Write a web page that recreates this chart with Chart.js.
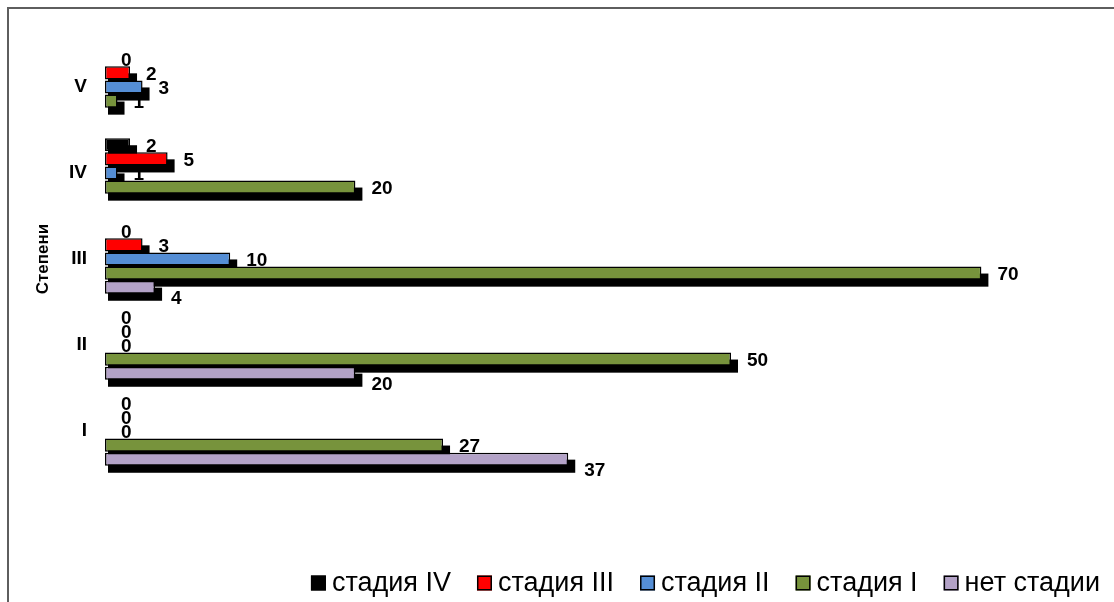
<!DOCTYPE html>
<html>
<head>
<meta charset="utf-8">
<title>Степени</title>
<script src="https://cdn.jsdelivr.net/npm/chart.js@4"></script>
<style>
  html, body { margin: 0; padding: 0; background: #fff; overflow: hidden; }
  #wrap { position: relative; width: 1114px; height: 602px; }
  #frame {
    position: absolute; left: 7px; top: 7px; width: 1200px; height: 700px;
    border-left: 2px solid #5e5e5e; border-top: 2px solid #5e5e5e;
  }
  canvas { position: absolute; left: 0; top: 0; }
</style>
</head>
<body>
<div id="wrap">
  <div id="frame"></div>
  <canvas id="chart" width="1114" height="602"></canvas>
</div>
<script>
"use strict";

// data
const degrees = ["V", "IV", "III", "II", "I"];
const stageFour = [0, 2, 0, 0, 0];
const stageThree = [2, 5, 3, 0, 0];
const stageTwo = [3, 1, 10, 0, 0];
const stageOne = [1, 20, 70, 50, 27];
const noStage = [null, null, 4, 20, 37];
const seriesNames = ["стадия IV", "стадия III", "стадия II", "стадия I", "нет стадии"];
const seriesColors = ["#000000", "#FF0000", "#558ED5", "#77933C", "#B3A2C7"];
const axisTitle = "Степени";

const fontFamily = "'Liberation Sans', Arial, sans-serif";

// black drop shadow behind every bar (drawn before all bars)
const barShadow = {
  id: "barShadow",
  beforeDatasetsDraw(chart) {
    const ctx = chart.ctx;
    ctx.save();
    ctx.fillStyle = "#000";
    chart.data.datasets.forEach((ds, i) => {
      chart.getDatasetMeta(i).data.forEach((bar, j) => {
        const v = ds.data[j];
        if (v === null || v === 0) return;
        const p = bar.getProps(["x", "y", "base", "height"], true);
        ctx.fillRect(p.base + 3, p.y - p.height / 2 + 7, p.x - p.base + 4, p.height);
      });
    });
    ctx.restore();
  }
};

// value labels next to the bars; the last series sits a bit lower, clear of the shadows
const valueLabels = {
  id: "valueLabels",
  afterDatasetsDraw(chart) {
    const ctx = chart.ctx;
    ctx.save();
    ctx.font = "bold 19px " + fontFamily;
    ctx.fillStyle = "#000";
    ctx.textAlign = "left";
    ctx.textBaseline = "middle";
    const last = chart.data.datasets.length - 1;
    chart.data.datasets.forEach((ds, i) => {
      chart.getDatasetMeta(i).data.forEach((bar, j) => {
        const v = ds.data[j];
        if (v === null) return;
        const p = bar.getProps(["x", "y"], true);
        const dy = i === last ? 12 : 2;
        ctx.fillText(String(v), p.x + 16, p.y + dy);
      });
    });
    ctx.restore();
  }
};

// legend at the bottom right, boxes close to the text
const bottomLegend = {
  id: "bottomLegend",
  afterDraw(chart) {
    const ctx = chart.ctx;
    ctx.save();
    ctx.font = "27px " + fontFamily;
    ctx.textBaseline = "middle";
    ctx.textAlign = "left";
    const box = 15, gapText = 6, gapItem = 26, yMid = 583;
    const items = chart.data.datasets.map(ds => ({
      text: ds.label, color: ds.backgroundColor, w: ctx.measureText(ds.label).width
    }));
    let total = 0;
    items.forEach((it, k) => { total += box + gapText + it.w + (k ? gapItem : 0); });
    let x = 1100 - total;
    items.forEach(it => {
      ctx.fillStyle = it.color;
      ctx.fillRect(x, yMid - box / 2, box, box);
      ctx.strokeStyle = "#000";
      ctx.lineWidth = 1.5;
      ctx.strokeRect(x + 0.75, yMid - box / 2 + 0.75, box - 1.5, box - 1.5);
      ctx.fillStyle = "#000";
      ctx.fillText(it.text, x + box + gapText, yMid + 1);
      x += box + gapText + it.w + gapItem;
    });
    ctx.restore();
  }
};

const allSeries = [stageFour, stageThree, stageTwo, stageOne, noStage];

const data = {
  labels: degrees,
  datasets: allSeries.map((values, i) => ({
    label: seriesNames[i],
    data: values,
    backgroundColor: seriesColors[i],
    borderColor: "#000",
    borderWidth: 1.5,
    borderSkipped: false,
    categoryPercentage: 0.82,
    barPercentage: 0.93
  }))
};

const config = {
  type: "bar",
  data: data,
  options: {
    indexAxis: "y",
    responsive: false,
    animation: false,
    layout: { padding: { left: 29, top: 44, right: 70, bottom: 128 } },
    plugins: {
      legend: { display: false },
      tooltip: { enabled: false }
    },
    scales: {
      x: {
        display: false,
        min: 0,
        max: 75
      },
      y: {
        grid: { display: false, drawTicks: false },
        border: { display: false },
        ticks: {
          color: "#000",
          padding: 18,
          font: { family: fontFamily, size: 19, weight: "bold" }
        },
        title: {
          display: true,
          text: axisTitle,
          color: "#000",
          padding: 4,
          font: { family: fontFamily, size: 17, weight: "bold" }
        },
        afterFit(scale) { scale.width = 76; }
      }
    }
  },
  plugins: [barShadow, valueLabels, bottomLegend]
};

const myChart = new Chart(document.getElementById("chart"), config);
</script>
</body>
</html>
